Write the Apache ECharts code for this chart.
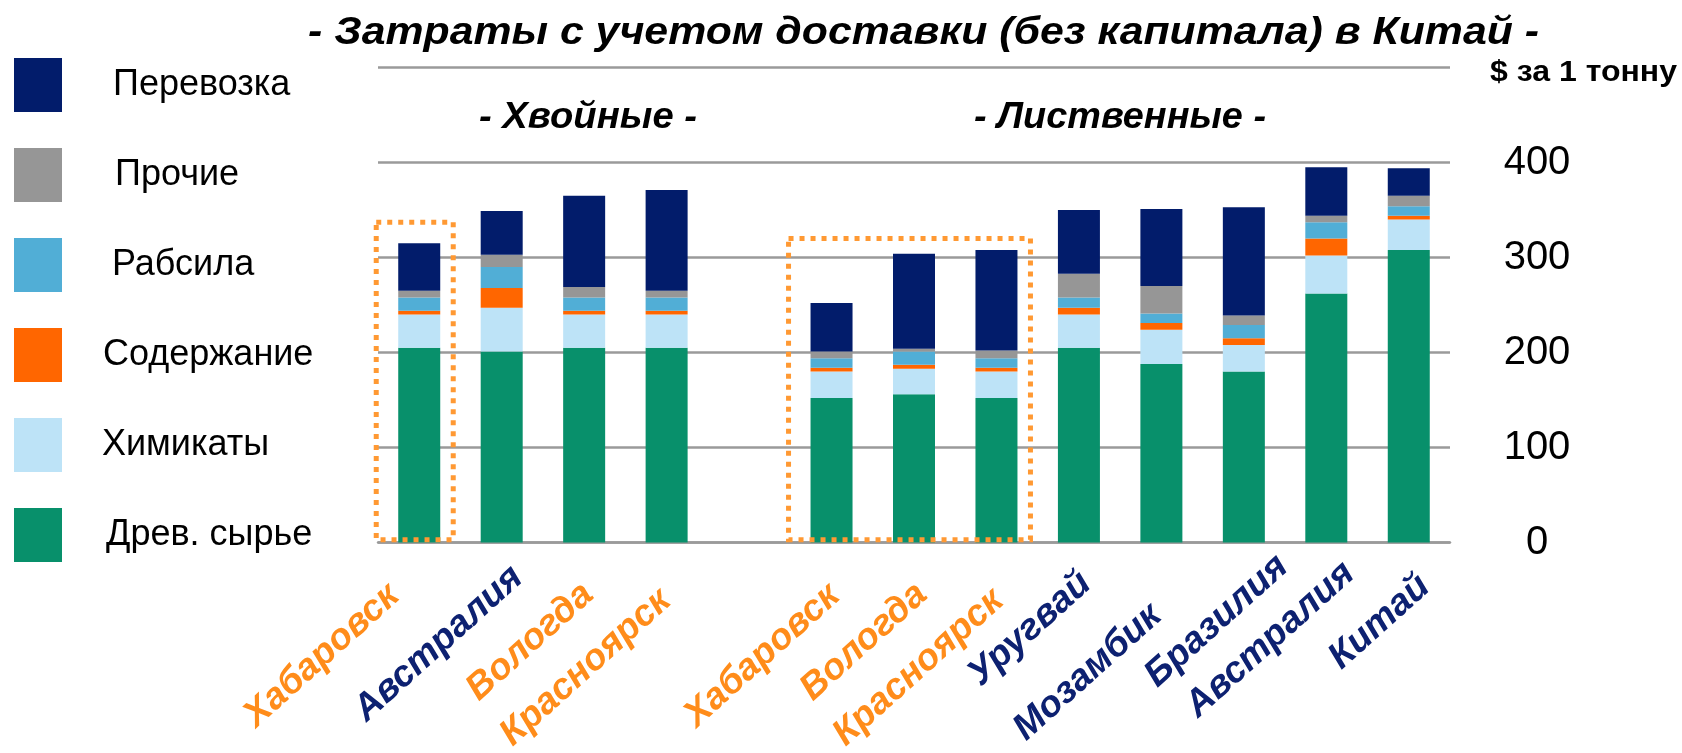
<!DOCTYPE html>
<html>
<head>
<meta charset="utf-8">
<script src="https://cdn.jsdelivr.net/npm/echarts@6/dist/echarts.min.js"></script>
<style>
  html, body { margin: 0; padding: 0; background: #fff; }
  #chart { width: 1682px; height: 753px; }
</style>
</head>
<body>
<div id="chart"></div>
<script>
// категории (пустая - разрыв между хвойными и лиственными)
var categories = ['Хабаровск', 'Австралия', 'Вологда', 'Красноярск', '', 'Хабаровск', 'Вологда', 'Красноярск', 'Уругвай', 'Мозамбик', 'Бразилия', 'Австралия', 'Китай'];
// true - российские площадки (оранжевая подпись)
var isRussian = [true, false, true, true, false, true, true, true, false, false, false, false, false];

// $ за 1 тонну, снизу вверх
var woodRaw   = [205, 201, 205, 205, null, 152, 156, 152, 205, 188, 180, 262, 308];
var chemicals = [35, 46, 35, 35, null, 28, 27, 28, 35, 36, 28, 40, 32];
var upkeep    = [4, 21, 4, 4, null, 4, 4, 4, 7, 7, 7, 18, 4];
var labour    = [14, 22, 14, 14, null, 10, 14, 10, 11, 10, 14, 17, 10];
var other     = [7, 13, 11, 7, null, 7, 3, 8, 25, 29, 10, 7, 11];
var freight   = [50, 46, 96, 106, null, 51, 100, 106, 67, 81, 114, 51, 29];

var yTickLabels = [0, 100, 200, 300, 400];

var legendNames = ['Перевозка', 'Прочие', 'Рабсила', 'Содержание', 'Химикаты', 'Древ. сырье'];

var font = "'Liberation Sans', Arial, sans-serif";
var gridColor = '#9a9a9a';

// сдвиг подписей категорий от основания столбца (как в исходном слайде)
var labelShift = [[-25, 48], [16, 30], [4, 47], [-1, 53], [0, 0], [3, 48], [8, 47], [2, 53], [7, 36], [-5, 68], [39, 19], [23, 26], [16, 39]];
// отступ текста легенды от левого края
var legendTextX = [113, 115, 112, 103, 102, 106];

function barSeries(name, data, color) {
	return {
		name: name,
		type: 'bar',
		stack: 'cost',
		data: data,
		barWidth: 42,
		itemStyle: { color: color },
		emphasis: { disabled: true }
	};
}

var myChart = echarts.init(document.getElementById('chart'));

var option = {
	animation: false,
	backgroundColor: '#fff',
	legend: {
		orient: 'vertical',
		left: 14,
		top: 58,
		padding: 0,
		itemWidth: 48,
		itemHeight: 54,
		itemGap: 36,
		icon: 'rect',
		selectedMode: false,
		data: legendNames.map(function (n, i) {
			return { name: n, textStyle: { padding: [0, 0, 0, legendTextX[i] - 67] } };
		}),
		textStyle: { fontFamily: font, fontSize: 36, color: '#000' }
	},
	grid: {
		left: 378,
		right: 232,
		top: 67.5,
		bottom: 210.5
	},
	xAxis: {
		type: 'category',
		data: categories,
		axisTick: { show: false },
		axisLine: { lineStyle: { color: gridColor, width: 2.5 } },
		axisLabel: { show: false }
	},
	yAxis: {
		type: 'value',
		position: 'right',
		min: 0,
		max: 500,
		interval: 100,
		axisLine: { show: false },
		axisTick: { show: false },
		splitLine: { lineStyle: { color: gridColor, width: 2.5 } },
		axisLabel: {
			margin: 87,
			align: 'center',
			fontFamily: font,
			fontSize: 40,
			color: '#000',
			padding: [0, 0, 16, 0],
			formatter: function (v) {
				return yTickLabels.indexOf(v) >= 0 ? String(v) : '';
			}
		}
	},
	series: [
		barSeries('Древ. сырье', woodRaw, '#08906b'),
		barSeries('Химикаты', chemicals, '#bde3f7'),
		barSeries('Содержание', upkeep, '#ff6600'),
		barSeries('Рабсила', labour, '#51aed6'),
		barSeries('Прочие', other, '#969696'),
		barSeries('Перевозка', freight, '#021c6b')
	]
};

myChart.setOption(option);

// заголовки: шрифт уже, чем в оригинале, поэтому растягиваем до нужной ширины
var ctx = document.createElement('canvas').getContext('2d');
function heading(text, left, width, cy, size, italic) {
	var style = (italic ? 'italic ' : '') + 'bold ' + size + "px 'Liberation Sans'";
	ctx.font = style;
	var w = ctx.measureText(text).width;
	return {
		type: 'text',
		x: left,
		y: cy,
		scaleX: width / w,
		z: 100,
		style: {
			text: text,
			fill: '#000',
			font: style,
			align: 'left',
			verticalAlign: 'middle',
			textAlign: 'left',
			textVerticalAlign: 'middle'
		}
	};
}

var graphics = [
	heading('- Затраты с учетом доставки (без капитала) в Китай -', 308, 1231, 33, 39, true),
	heading('- Хвойные -', 479, 218, 118, 36, true),
	heading('- Лиственные -', 974, 292, 118, 36, true),
	heading('$ за 1 тонну', 1490, 187, 73, 29, false)
];

// подписи категорий под наклоном
var axisY = myChart.convertToPixel({ yAxisIndex: 0 }, 0);
categories.forEach(function (name, i) {
	if (!name) return;
	var style = "italic bold 37px 'Liberation Sans'";
	graphics.push({
		type: 'text',
		x: myChart.convertToPixel({ xAxisIndex: 0 }, i) + labelShift[i][0],
		y: axisY + labelShift[i][1],
		rotation: 42 * Math.PI / 180,
		z: 100,
		style: {
			text: name,
			fill: isRussian[i] ? '#ff8c1a' : '#0d2171',
			font: style,
			align: 'right',
			verticalAlign: 'middle',
			textAlign: 'right',
			textVerticalAlign: 'middle'
		}
	});
});

// пунктирные рамки вокруг российских площадок
var boxes = [
	{ from: 0, to: 0, top: 337 },
	{ from: 5, to: 7, top: 320 }
];
boxes.forEach(function (b) {
	var x1 = myChart.convertToPixel({ xAxisIndex: 0 }, b.from) - 43;
	var x2 = myChart.convertToPixel({ xAxisIndex: 0 }, b.to) + 34;
	var y1 = myChart.convertToPixel({ yAxisIndex: 0 }, b.top);
	var y2 = myChart.convertToPixel({ yAxisIndex: 0 }, 3);
	graphics.push({
		type: 'rect',
		shape: { x: x1, y: y1, width: x2 - x1, height: y2 - y1 },
		style: { fill: null, stroke: '#ff9933', lineWidth: 5, lineDash: [5, 6] },
		z: 100
	});
});
myChart.setOption({ graphic: graphics });
</script>
</body>
</html>
